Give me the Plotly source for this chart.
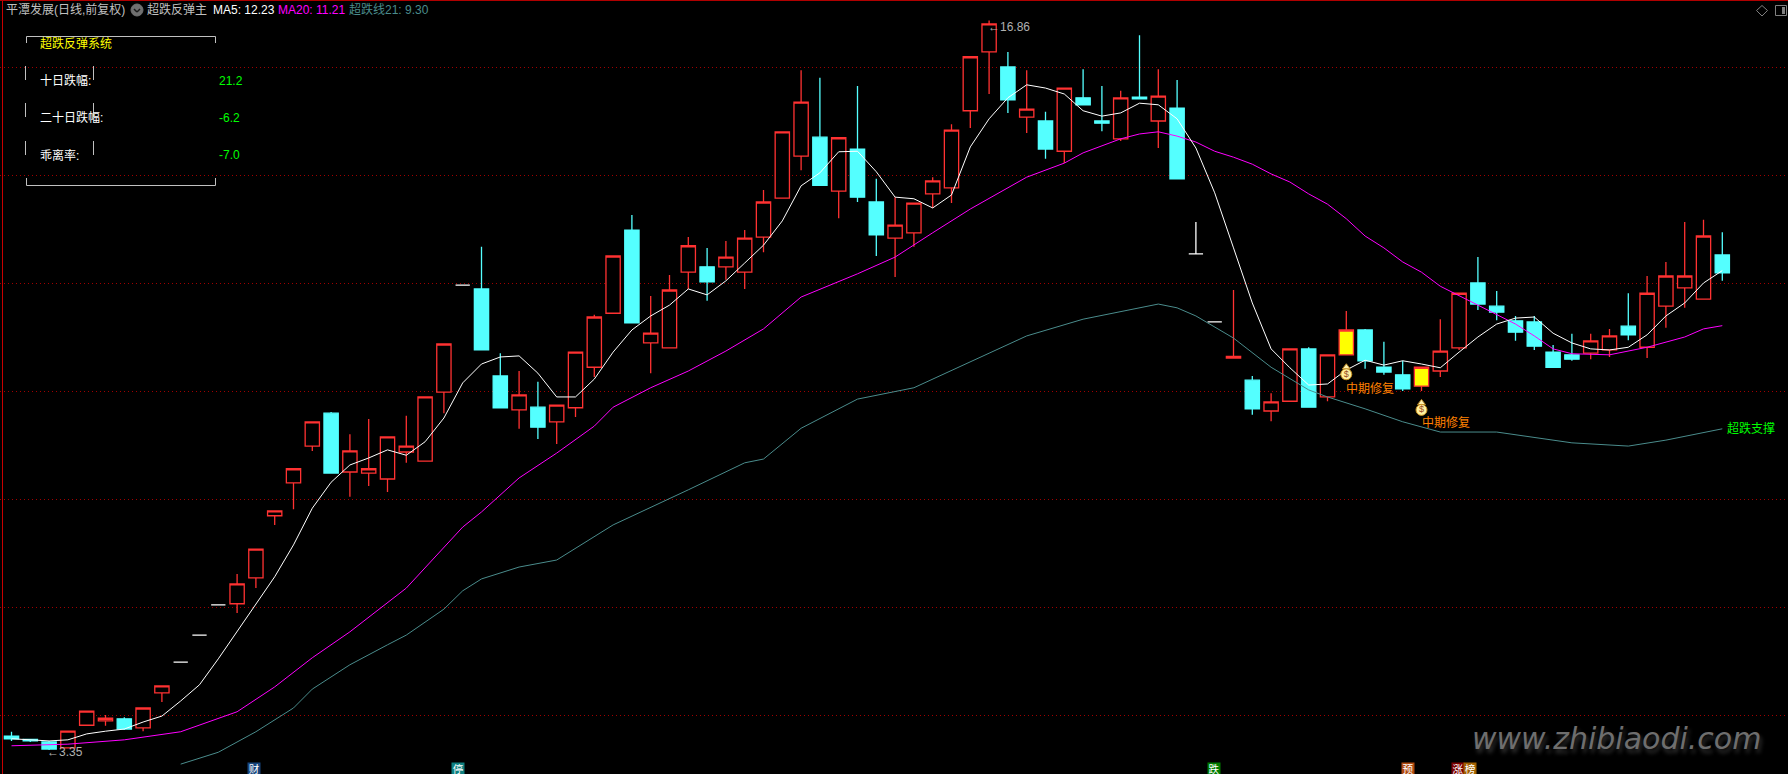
import plotly.graph_objects as go

W, H = 1788, 774
CJK = "Liberation Sans, Noto Sans CJK SC"

# one letter and one row of price readings per trading day (index = day number)
kinds = list("cccrrrcrrw" "wwrrrrrcrr" "rrrrwccrcr" "rrrcrrrcrr" "rrrcrccrrr"
             "rrrcrcrccr" "crcwwrcrrc" "ryccc" "yrrcc" "ccccrrcrrr" "rc")

opens = [3.61,3.55,3.50,3.39,3.81,3.89,3.93,3.76,4.41,4.98,5.48,6.04,6.06,6.54,7.69,8.30,8.98,9.59,8.50,8.48,
         8.37,8.87,8.70,9.98,11.96,11.89,10.28,9.65,9.70,9.43,9.69,10.44,11.44,12.98,10.89,10.80,12.20,12.30,12.30,12.20,
         12.85,13.57,14.35,14.70,13.70,14.48,13.50,12.83,12.93,13.65,13.76,15.19,16.28,16.00,15.07,15.00,14.44,15.43,15.00,14.67,
         15.44,15.00,15.24,12.54,11.28,10.61,10.20,9.63,9.81,10.78,9.89,10.67,11.13,10.44,10.30,10.09,10.37,10.80,12.00,11.57,
         11.30,11.28,10.72,10.67,10.70,10.76,11.20,10.81,11.57,11.91,11.70,12.52]
closes = [3.56,3.52,3.37,3.70,4.07,3.94,3.74,4.13,4.54,4.98,5.48,6.04,6.43,7.07,7.78,8.56,9.43,8.48,8.89,8.56,
          9.15,8.98,9.89,10.87,11.96,10.76,9.69,9.93,9.33,9.74,10.72,11.37,12.50,11.26,11.07,11.87,12.69,12.02,12.48,12.83,
          13.50,14.80,15.35,13.81,14.69,13.59,12.89,13.07,13.48,13.89,14.83,16.19,16.80,15.39,15.22,14.48,15.61,15.30,14.96,15.43,
          15.41,15.46,13.93,12.54,11.28,10.64,9.67,9.80,10.78,9.70,10.67,11.13,10.56,10.35,10.04,10.44,10.74,11.81,11.61,11.46,
          11.09,10.83,10.44,10.59,10.93,11.02,11.04,11.81,12.13,12.13,12.87,12.19]
highs = [3.69,3.56,3.52,3.70,4.07,4.00,3.96,4.13,4.54,4.98,5.48,6.04,6.61,7.07,7.78,8.56,9.43,9.61,9.20,9.48,
         9.15,9.54,9.89,10.87,11.96,12.67,10.70,10.37,10.17,9.74,10.72,11.41,12.50,13.26,11.76,12.15,12.85,12.65,12.78,12.98,
         13.72,14.81,15.94,15.80,14.69,15.65,13.93,13.59,13.48,13.96,14.94,16.19,16.86,16.28,15.94,15.17,15.61,15.96,15.65,15.56,
         16.59,15.96,15.76,13.13,11.28,11.87,10.28,9.96,10.78,10.81,10.67,11.48,11.15,10.91,10.56,10.44,11.33,11.81,12.48,11.85,
         11.39,11.39,10.85,11.06,11.06,11.15,11.81,12.13,12.39,13.13,13.17,12.94]
lows = [3.52,3.50,3.35,3.39,3.81,3.80,3.72,3.70,4.24,4.98,5.48,6.04,5.89,6.35,7.52,7.81,8.89,8.48,8.04,8.24,
        8.13,8.67,8.70,9.59,11.96,10.76,9.69,9.30,9.11,9.02,9.52,10.26,11.44,11.26,10.33,10.80,11.89,11.67,12.06,11.89,
        12.57,13.57,14.09,13.81,13.20,13.50,12.50,12.11,12.67,13.39,13.48,14.87,15.50,15.15,14.78,14.30,14.22,15.30,14.81,14.63,
        15.41,14.50,13.93,12.54,11.28,10.61,9.56,9.44,9.81,9.70,9.81,10.67,10.41,10.30,10.00,10.00,10.26,10.76,11.50,11.31,
        10.93,10.76,10.43,10.56,10.59,10.63,10.94,10.61,11.17,11.54,11.70,12.04]

ma5 = [3.56,3.54,3.52,3.54,3.65,3.70,3.74,3.87,3.98,4.26,4.56,5.04,5.54,6.04,6.56,7.15,7.83,8.31,8.63,8.76,
       8.91,8.81,9.06,9.50,10.15,10.50,10.63,10.65,10.33,9.89,9.89,10.22,10.72,11.13,11.39,11.59,11.89,11.78,12.04,12.37,
       12.70,13.15,13.80,14.04,14.43,14.44,14.06,13.59,13.56,13.39,13.63,14.52,15.04,15.43,15.67,15.61,15.50,15.19,15.09,15.15,
       15.33,15.30,15.04,14.50,13.67,12.65,11.63,10.78,10.43,10.11,10.13,10.39,10.57,10.48,10.56,10.50,10.43,10.72,11.00,11.24,
       11.35,11.37,11.07,10.89,10.78,10.76,10.81,11.04,11.39,11.63,12.00,12.23]

ma20_days = [0,3,6,9,12,14,16,18,21,22,23,24,25,26,27,29,31,32,34,36,38,40,42,45,47,49,51,54,56,57,59,60,61,62,63,64,
             65,66,67,68,69,70,71,72,73,74,75,76,77,78,80,81,82,83,85,87,89,90,91]
ma20 = [3.43,3.46,3.54,3.69,4.06,4.52,5.06,5.54,6.35,6.72,7.09,7.48,7.76,8.07,8.39,8.85,9.35,9.70,10.06,10.37,10.74,11.15,11.74,
        12.17,12.48,12.93,13.37,13.96,14.22,14.41,14.67,14.76,14.80,14.72,14.61,14.44,
        14.33,14.20,14.02,13.87,13.65,13.46,13.19,12.87,12.65,12.39,12.20,11.94,11.76,11.59,11.24,11.02,10.78,10.69,10.67,10.81,11.00,11.15,11.21]

sup_days = [9,11,13,15,16,18,20,21,23,24,25,27,29,32,36,39,40,42,45,48,52,54,57,61,62,63,65,67,69,70,72,74,76,79,83,86,88,91]
sup21 = [3.09,3.31,3.69,4.13,4.48,4.93,5.30,5.48,5.96,6.30,6.52,6.74,6.87,7.52,8.17,8.67,8.74,9.31,9.85,10.06,10.70,11.02,11.33,11.61,
         11.54,11.39,10.98,10.44,10.02,9.89,9.67,9.43,9.24,9.24,9.04,8.98,9.09,9.30]

grid_prices = [4, 6, 8, 10, 12, 14, 16]
repair_days = [71, 75]
repair_bag_prices = [10.31, 9.65]
repair_label_prices = [10.04, 9.41]
panel_rows = [("十日跌幅:", "21.2"), ("二十日跌幅:", "-6.2"), ("乖离率:", "-7.0")]
bottom_tags = [(12.9, "财", "#17447C"), (23.75, "停", "#0E8080"), (63.95, "跌", "#007A00"),
               (74.3, "预", "#B04A10"), (76.95, "涨", "#7A0000"), (77.6, "榜", "#A06000")]

RED, CYAN, YEL, WHT = "#FF3232", "#54FFFF", "#FFFF00", "#FFFFFF"
styles = {"r": (RED, "#000000"), "c": (CYAN, CYAN), "y": (RED, YEL), "w": (WHT, WHT)}

fig = go.Figure()
days = list(range(len(opens)))
for k, (lc, fc) in styles.items():
    idx = [i for i in days if kinds[i] == k]
    side = dict(line=dict(color=lc, width=1.3), fillcolor=fc)
    fig.add_trace(go.Candlestick(x=idx, open=[opens[i] for i in idx], high=[highs[i] for i in idx],
                                 low=[lows[i] for i in idx], close=[closes[i] for i in idx],
                                 increasing=side, decreasing=side, whiskerwidth=0,
                                 hoverinfo="skip", showlegend=False))

for xs, ys, col in [(sup_days, sup21, "#4A8C8C"), (ma20_days, ma20, "#FF00FF"), (days, ma5, "#FFFFFF")]:
    fig.add_trace(go.Scatter(x=xs, y=ys, mode="lines", line=dict(color=col, width=1),
                             hoverinfo="skip", showlegend=False))

# money-bag signal icons
fig.add_trace(go.Scatter(x=repair_days, y=[p + 0.13 for p in repair_bag_prices], mode="markers",
                         marker=dict(symbol="triangle-up", size=7, color="#FFF2B0", line=dict(color="#B08020", width=1)),
                         hoverinfo="skip", showlegend=False))
fig.add_trace(go.Scatter(x=repair_days, y=repair_bag_prices, mode="markers+text", text=["$", "$"],
                         textposition="middle center",
                         textfont=dict(family="Liberation Sans", size=9, color="#9A4A20"),
                         marker=dict(symbol="circle", size=11, color="#FFF2A0", line=dict(color="#C89020", width=1)),
                         hoverinfo="skip", showlegend=False))

def fx(px): return px / W
def fy(py): return 1 - py / H

def label(text, px, py, color, size=12, anchor="left"):
    fig.add_annotation(x=fx(px), y=fy(py), xref="paper", yref="paper", text=text, showarrow=False,
                       xanchor=anchor, yanchor="middle", font=dict(family=CJK, size=size, color=color),
                       borderpad=0, borderwidth=0)

label("平潭发展(日线,前复权)", 6, 10, "#C0C0C0")
label("超跌反弹主", 147, 10, "#C0C0C0")
label("MA5: 12.23", 213, 10, "#FFFFFF")
label("MA20: 11.21", 278, 10, "#FF00FF")
label("超跌线21: 9.30", 349, 10, "#4A8C8C")
label("超跌反弹系统", 40, 43, "#FFFF00")
for (name, val), py in zip(panel_rows, [81, 118, 155]):
    label(name, 40, py, "#FFFFFF")
    label(val, 219, py, "#00FF00")

fig.add_annotation(x=52, y=highs[52], text="←16.86", showarrow=False, xanchor="left", yanchor="middle",
                   xshift=-3, yshift=-6, font=dict(family=CJK, size=12, color="#B0B0B0"))
fig.add_annotation(x=2, y=lows[2], text="←3.35", showarrow=False, xanchor="left", yanchor="middle",
                   xshift=-4, yshift=-2, font=dict(family=CJK, size=12, color="#B0B0B0"))
fig.add_annotation(x=91, y=sup21[-1], text="超跌支撑", showarrow=False, xanchor="left", yanchor="middle",
                   xshift=3, font=dict(family=CJK, size=12, color="#00FF00"))
for d, p in zip(repair_days, repair_label_prices):
    fig.add_annotation(x=d, y=p, text="中期修复", showarrow=False, xanchor="left", yanchor="middle",
                       xshift=-2, font=dict(family=CJK, size=12, color="#FF8000"))
for d, t, c in bottom_tags:
    fig.add_annotation(x=d, y=fy(768), yref="paper", text=t, showarrow=False, xanchor="center", yanchor="middle",
                       bgcolor=c, borderpad=0, width=12, height=11, font=dict(family=CJK, size=10.5, color="#FFFFFF"))

fig.add_annotation(x=fx(1470), y=fy(738), xref="paper", yref="paper", text="www.zhibiaodi.com", showarrow=False,
                   xanchor="left", yanchor="middle",
                   font=dict(family="DejaVu Sans", size=30, color="#6E6E6E", style="italic",
                             shadow="2px 4px 4px #333333"))

def seg(x0, y0, x1, y1, col="#C0C0C0", w=1):
    fig.add_shape(type="line", xref="paper", yref="paper", x0=fx(x0), y0=fy(y0), x1=fx(x1), y1=fy(y1),
                  line=dict(color=col, width=w))

# panel frame
seg(26.5, 36.5, 215.5, 36.5); seg(26.5, 36.5, 26.5, 43); seg(215.5, 36.5, 215.5, 43)
seg(26.5, 185.5, 215.5, 185.5); seg(26.5, 185.5, 26.5, 178); seg(215.5, 185.5, 215.5, 178)
for a, b in [(66, 80), (103, 117), (141, 155)]:
    seg(25.5, a, 25.5, b); seg(93.5, a, 93.5, b)
# window frame
seg(2.5, 0, 2.5, H, "#C80000"); seg(0, 0.5, W, 0.5, "#B00000")
# title-bar drop icon
fig.add_shape(type="circle", xref="paper", yref="paper", x0=fx(131), x1=fx(143), y0=fy(16), y1=fy(4),
              fillcolor="#707070", line=dict(color="#707070", width=1))
seg(134, 9, 137, 12, "#1A1A1A", 1.5); seg(137, 12, 140, 9, "#1A1A1A", 1.5)
# top-right window icons
for a, b, c, d in [(1762, 5.5, 1767.5, 10.5), (1767.5, 10.5, 1762, 16), (1762, 16, 1756.5, 10.5), (1756.5, 10.5, 1762, 5.5)]:
    seg(a, b, c, d, "#808080")
fig.add_shape(type="rect", xref="paper", yref="paper", x0=fx(1775.5), x1=fx(1786.5), y0=fy(15.5), y1=fy(5.5),
              line=dict(color="#808080", width=1))
fig.add_shape(type="rect", xref="paper", yref="paper", x0=fx(1782), x1=fx(1785), y0=fy(14), y1=fy(7),
              fillcolor="#808080", line=dict(width=0))

fig.update_layout(width=W, height=H, margin=dict(l=0, r=0, t=0, b=0), paper_bgcolor="#000000", plot_bgcolor="#000000",
                  boxgap=0.24, boxgroupgap=0, showlegend=False,
                  xaxis=dict(range=[-11.5 / 18.8, (W - 11.5) / 18.8], visible=False, rangeslider=dict(visible=False), fixedrange=True),
                  yaxis=dict(range=[4 - 59 / 54, 4 + 715 / 54], tickvals=grid_prices, showticklabels=False, ticks="", zeroline=False,
                             showline=False, showgrid=True, gridcolor="#A00000", griddash="1px 3px", gridwidth=1, fixedrange=True))

fig.write_html("out.html", config=dict(displayModeBar=False),
               post_script="document.body.style.margin='0';document.documentElement.style.overflow='hidden';")
